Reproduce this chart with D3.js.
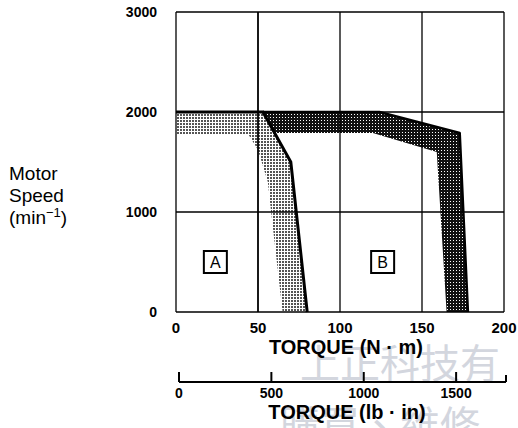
<!DOCTYPE html>
<html><head><meta charset="utf-8">
<script src="https://cdn.jsdelivr.net/npm/d3@7"></script>
<style>body{margin:0;background:#fff} svg{display:block}</style>
</head><body><svg id="c" width="518" height="428"></svg>
<script>
const torqueTicks = [0, 50, 100, 150, 200];
const speedTicks = [0, 1000, 2000, 3000];
const lbinTicks = [0, 500, 1000, 1500];
const lbinMax = 1770;
const aLineTorque = [0, 53, 70, 80];
const aLineSpeed = [2000, 2000, 1500, 0];
const aInnerTorque = [0, 44, 50, 56, 58, 65];
const aInnerSpeed = [1780, 1780, 1620, 1300, 1000, 0];
const bLineTorque = [53, 124, 173, 178];
const bLineSpeed = [2000, 2000, 1790, 0];
const bInnerTorque = [60, 120, 159, 165];
const bInnerSpeed = [1790, 1790, 1600, 0];
const regionLabels = ["A", "B"];
const regionTorque = [24, 126];
const regionSpeed = [500, 500];
const watermark1 = "上正科技有";
const watermark2 = "購買、維修";

const svg = d3.select("#c");
const x = d3.scaleLinear().domain([0, 200]).range([176, 504]);
const y = d3.scaleLinear().domain([0, 3000]).range([312, 12]);
const xl = d3.scaleLinear().domain([0, lbinMax]).range([179, 506]);
const FONT = "Liberation Sans, Arial, Helvetica, sans-serif";

// watermark (under everything)
const wm = svg.append("g").attr("font-family", "Noto Sans CJK TC").attr("font-size", 40)
  .attr("fill", "#d3d6de");
wm.append("text").attr("x", 300).attr("y", 378).text(watermark1);
wm.append("text").attr("x", 280).attr("y", 440).text(watermark2);

// patterns
const defs = svg.append("defs");
const pA = defs.append("pattern").attr("id", "pA").attr("patternUnits", "userSpaceOnUse")
  .attr("width", 3).attr("height", 3);
pA.append("rect").attr("width", 3).attr("height", 3).attr("fill", "#fff");
pA.append("rect").attr("x", 0).attr("y", 0).attr("width", 2).attr("height", 2).attr("fill", "#555");
const pB = defs.append("pattern").attr("id", "pB").attr("patternUnits", "userSpaceOnUse")
  .attr("width", 3).attr("height", 3);
pB.append("rect").attr("width", 3).attr("height", 3).attr("fill", "#111");
pB.append("rect").attr("x", 0).attr("y", 0).attr("width", 1).attr("height", 1).attr("fill", "#fff");

const line = d3.line().x(d => x(d[0])).y(d => y(d[1]));
const zip = (a, b) => a.map((v, i) => [v, b[i]]);

// bands
const aOuter = zip(aLineTorque, aLineSpeed);
const aInner = zip(aInnerTorque, aInnerSpeed);
svg.append("path").attr("d", line(aOuter.concat(aInner.slice().reverse())) + "Z")
  .attr("fill", "url(#pA)");
const bOuter = zip(bLineTorque, bLineSpeed);
const bInner = zip(bInnerTorque, bInnerSpeed);
svg.append("path").attr("d", line(bOuter.concat(bInner.slice().reverse())) + "Z")
  .attr("fill", "url(#pB)");

// grid
const grid = svg.append("g");
grid.selectAll("line.v").data(torqueTicks).join("line")
  .attr("x1", d => x(d)).attr("x2", d => x(d)).attr("y1", y(0)).attr("y2", y(3000))
  .attr("stroke", "#000").attr("stroke-width", d => d === 50 ? 1.8 : 1.3);
grid.selectAll("line.h").data(speedTicks).join("line")
  .attr("y1", d => y(d)).attr("y2", d => y(d)).attr("x1", x(0)).attr("x2", x(200))
  .attr("stroke", "#000").attr("stroke-width", 1.3);

// curve lines
svg.append("path").attr("d", line(aOuter)).attr("fill", "none").attr("stroke", "#000")
  .attr("stroke-width", 3).attr("stroke-linejoin", "miter");
svg.append("path").attr("d", line(bOuter)).attr("fill", "none").attr("stroke", "#000")
  .attr("stroke-width", 2.5).attr("stroke-linejoin", "round");

// region labels
regionLabels.forEach((t, i) => {
  const cx = x(regionTorque[i]), cy = y(regionSpeed[i]);
  svg.append("rect").attr("x", cx - 11.5).attr("y", cy - 11).attr("width", 23).attr("height", 22)
    .attr("fill", "#fff").attr("stroke", "#000").attr("stroke-width", 2);
  svg.append("text").attr("x", cx).attr("y", cy + 6).attr("text-anchor", "middle")
    .attr("font-family", FONT).attr("font-size", 16).text(t);
});

// y tick labels
svg.append("g").selectAll("text").data(speedTicks).join("text")
  .attr("x", 157).attr("y", d => y(d) + 5).attr("text-anchor", "end")
  .attr("font-family", FONT).attr("font-size", 14).attr("font-weight", "bold")
  .text(d => d);
// x tick labels
svg.append("g").selectAll("text").data(torqueTicks).join("text")
  .attr("x", d => x(d)).attr("y", 333).attr("text-anchor", "middle")
  .attr("font-family", FONT).attr("font-size", 15).attr("font-weight", "bold")
  .text(d => d);
svg.append("text").attr("x", 346).attr("y", 354).attr("text-anchor", "middle")
  .attr("font-family", FONT).attr("font-size", 20).attr("font-weight", "bold")
  .text("TORQUE (N · m)");

// secondary axis
const ax2 = svg.append("g");
ax2.append("line").attr("x1", xl(0)).attr("x2", xl(lbinMax)).attr("y1", 382).attr("y2", 382)
  .attr("stroke", "#000").attr("stroke-width", 2);
ax2.selectAll("line.t").data(lbinTicks).join("line")
  .attr("x1", d => xl(d)).attr("x2", d => xl(d)).attr("y1", 372).attr("y2", 382)
  .attr("stroke", "#000").attr("stroke-width", 2);
ax2.append("line").attr("x1", xl(lbinMax)).attr("x2", xl(lbinMax)).attr("y1", 375).attr("y2", 382)
  .attr("stroke", "#000").attr("stroke-width", 2);
ax2.selectAll("text").data(lbinTicks).join("text")
  .attr("x", d => xl(d)).attr("y", 398).attr("text-anchor", "middle")
  .attr("font-family", FONT).attr("font-size", 14).attr("font-weight", "bold")
  .text(d => d);
svg.append("text").attr("x", 347).attr("y", 419).attr("text-anchor", "middle")
  .attr("font-family", FONT).attr("font-size", 20).attr("font-weight", "bold")
  .text("TORQUE (lb · in)");

// y axis title
const yt = svg.append("text").attr("font-family", FONT).attr("font-size", 19);
yt.append("tspan").attr("x", 9).attr("y", 180).text("Motor");
yt.append("tspan").attr("x", 9).attr("y", 202).text("Speed");
yt.append("tspan").attr("x", 9).attr("y", 224).text("(min");
yt.append("tspan").attr("dy", -7).attr("font-size", 13).text("−1");
yt.append("tspan").attr("dy", 7).text(")");
</script></body></html>
